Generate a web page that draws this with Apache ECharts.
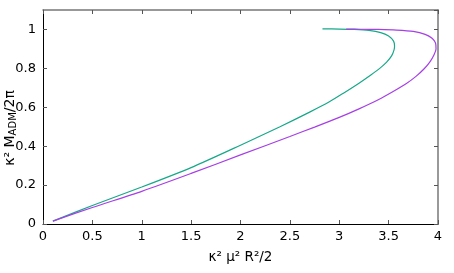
<!DOCTYPE html>
<html>
<head>
<meta charset="utf-8">
<script src="https://cdn.jsdelivr.net/npm/echarts@6/dist/echarts.min.js"></script>
<style>
html,body{margin:0;padding:0;background:#fff;}
#chart{width:454px;height:273px;}
</style>
</head>
<body>
<div id="chart"></div>
<script>
// Curve 1 (green): x = κ² μ² R²/2, y = κ² M_ADM/2π
const greenX = [0.1, 0.5, 1.0, 1.5, 2.0, 2.4, 2.7, 2.9, 3.05, 3.2, 3.32, 3.41, 3.48, 3.53, 3.555, 3.56, 3.55, 3.5, 3.42, 3.3, 3.15, 3.0, 2.83];
const greenY = [0.015, 0.095, 0.19, 0.29, 0.405, 0.5, 0.575, 0.628, 0.675, 0.724, 0.766, 0.8, 0.832, 0.864, 0.895, 0.915, 0.94, 0.966, 0.984, 0.995, 1.0, 1.002, 1.003];
// Curve 2 (purple)
const purpleX = [0.1, 0.5, 1.0, 1.5, 2.0, 2.5, 2.75, 3.0, 3.2, 3.4, 3.55, 3.68, 3.78, 3.86, 3.92, 3.96, 3.98, 3.975, 3.94, 3.87, 3.75, 3.58, 3.4, 3.22, 3.07];
const purpleY = [0.015, 0.085, 0.168, 0.26, 0.355, 0.45, 0.498, 0.548, 0.592, 0.64, 0.682, 0.722, 0.76, 0.798, 0.835, 0.87, 0.9, 0.93, 0.955, 0.975, 0.99, 0.997, 1.0, 1.001, 1.002];
const xTicks = [0, 0.5, 1, 1.5, 2, 2.5, 3, 3.5, 4];
const yTicks = [0, 0.2, 0.4, 0.6, 0.8, 1];

const zip = (xs, ys) => xs.map((x, i) => [x, ys[i]]);
const FONT = 'DejaVu Sans';
const chart = echarts.init(document.getElementById('chart'), null, {renderer: 'canvas'});

const baseAxis = {
  splitLine: {show: false},
  axisTick: {show: true, inside: true, length: 4, lineStyle: {color: '#555', width: 1}},
};

chart.setOption({
  animation: false,
  backgroundColor: '#fff',
  grid: {left: 43, right: 16, top: 10, bottom: 49, containLabel: false},
  xAxis: [
    Object.assign({}, baseAxis, {
      type: 'value', min: 0, max: 4, interval: 0.5, position: 'bottom',
      axisLine: {show: true, onZero: false, lineStyle: {color: '#000', width: 1}},
      axisLabel: {color: '#000', fontFamily: FONT, fontSize: 13, margin: 6,
        formatter: v => xTicks.includes(+v.toFixed(2)) ? String(+v.toFixed(2)) : ''},
      name: '{a|κ² μ² R²/2}', nameLocation: 'middle', nameGap: 26,
      nameTextStyle: {color: '#000', fontFamily: FONT, fontSize: 13,
        rich: {a: {fontFamily: FONT, fontSize: 13.5, color: '#000'}}}
    }),
    Object.assign({}, baseAxis, {
      type: 'value', min: 0, max: 4, interval: 0.5, position: 'top',
      axisLine: {show: true, onZero: false, lineStyle: {color: '#777', width: 1.5}},
      axisLabel: {show: false}
    })
  ],
  yAxis: [
    Object.assign({}, baseAxis, {
      type: 'value', min: 0, max: 1.1, interval: 0.2, position: 'left',
      axisLine: {show: true, onZero: false, lineStyle: {color: '#000', width: 1}},
      axisLabel: {color: '#000', fontFamily: FONT, fontSize: 13, margin: 7, showMaxLabel: false,
        formatter: v => yTicks.includes(+v.toFixed(2)) ? String(+v.toFixed(2)) : ''}
    }),
    Object.assign({}, baseAxis, {
      type: 'value', min: 0, max: 1.1, interval: 0.2, position: 'right',
      axisLine: {show: true, onZero: false, lineStyle: {color: '#777', width: 1.5}},
      axisLabel: {show: false}
    })
  ],
  graphic: [{
    type: 'text', x: 11, y: 128, rotation: Math.PI / 2,
    style: {
      text: '{a|κ² M}{s|ADM}{a|/2π}',
      align: 'center', verticalAlign: 'middle',
      fill: '#000', font: '14px "DejaVu Sans"',
      rich: {
        a: {fontFamily: FONT, fontSize: 14, lineHeight: 15, verticalAlign: 'top', fill: '#000'},
        s: {fontFamily: FONT, fontSize: 10, lineHeight: 10, verticalAlign: 'bottom', fill: '#000'}
      }
    }
  }],
  series: [
    {type: 'line', name: 'green', xAxisIndex: 0, yAxisIndex: 0, data: zip(greenX, greenY),
      showSymbol: false, smooth: 0.25, lineStyle: {color: '#17a889', width: 1.2}, z: 3},
    {type: 'line', name: 'purple', xAxisIndex: 0, yAxisIndex: 0, data: zip(purpleX, purpleY),
      showSymbol: false, smooth: 0.25, lineStyle: {color: '#a63fe6', width: 1.2}, z: 4}
  ]
});
</script>
</body>
</html>
